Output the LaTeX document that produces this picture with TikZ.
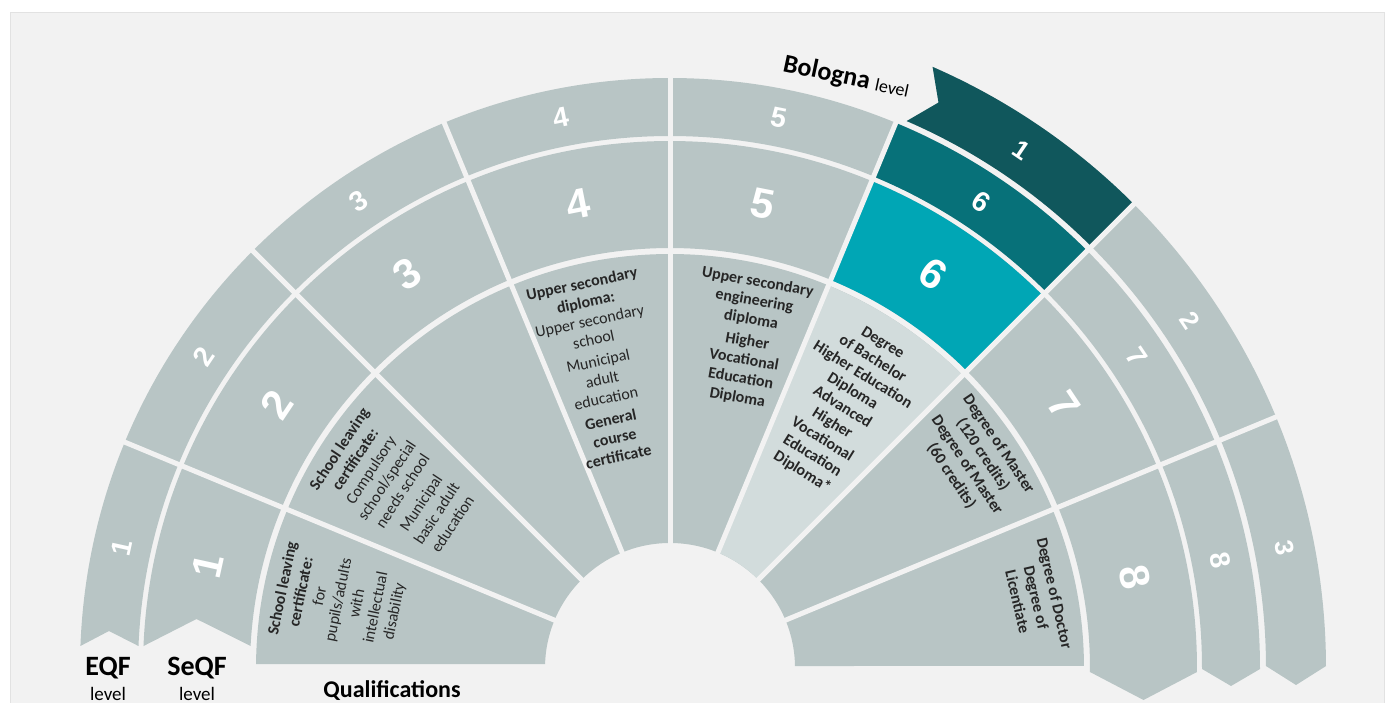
\documentclass[tikz,border=0pt]{standalone}
\usepackage{fontspec}
\setmainfont{Carlito}
\newfontfamily\digitfont{Liberation Sans}
\definecolor{bgc}{HTML}{F2F2F2}
\definecolor{framec}{HTML}{E2E2E2}
\definecolor{cellgray}{HTML}{B8C5C5}
\definecolor{celllight}{HTML}{D2DCDC}
\definecolor{cyanc}{HTML}{00A6B5}
\definecolor{tealc}{HTML}{077179}
\definecolor{darkc}{HTML}{10575C}
\definecolor{txt}{HTML}{262626}
\begin{document}
\begin{tikzpicture}[x=1pt,y=1pt,
  sep/.style={draw=bgc, line width=5pt},
  dig/.style={text=white, font=\digitfont\bfseries\fontsize{#1}{#1}\selectfont, inner sep=0pt},
  qtext/.style={align=center, text=txt, inner sep=0pt, font=\fontsize{16}{19}\selectfont},
  qbold/.style={qtext, font=\bfseries\fontsize{16}{19}\selectfont},
  lbl/.style={text=black, inner sep=0pt}
]
\useasboundingbox (0,0) rectangle (1388,702);
\fill[white] (0,0) rectangle (1388,702);
\filldraw[fill=bgc, draw=framec, line width=1pt] (10,-2) rectangle (1384,689);

\begin{scope}[shift={(670,34)}]
  % qualifications ring
  \fill[cellgray] (179.45:414) arc[start angle=179.45, end angle=0.3, radius=414]
     -- (0.9:125) arc[start angle=0.9, end angle=178.17, radius=125] -- cycle;
  \fill[celllight] (67.5:414) arc[start angle=67.5, end angle=45, radius=414]
     -- (45:125) arc[start angle=45, end angle=67.5, radius=125] -- cycle;
  % SeQF ring
  \fill[cellgray] (177.61:527) arc[start angle=177.61, end angle=-0.435, radius=527]
     -- (473.5,-32) -- (-0.546:420) arc[start angle=-0.546, end angle=177.0, radius=420]
     -- (-473.5,49) -- cycle;
  \fill[cyanc] (67.5:527) arc[start angle=67.5, end angle=45, radius=527]
     -- (45:420) arc[start angle=45, end angle=67.5, radius=420] -- cycle;
  % EQF ring
  \fill[cellgray] (177.86:590) arc[start angle=177.86, end angle=-0.1, radius=590]
     -- (561,-18) -- (-0.1:532) arc[start angle=-0.1, end angle=177.63, radius=532]
     -- (-561,37) -- cycle;
  \fill[tealc] (67.5:590) arc[start angle=67.5, end angle=45, radius=590]
     -- (45:532) arc[start angle=45, end angle=67.5, radius=532] -- cycle;
  % Bologna ring
  \fill[cellgray] (66.4:656) arc[start angle=66.4, end angle=0.17, radius=656]
     -- (626,-17) -- (0.19:596) arc[start angle=0.19, end angle=66.6, radius=596]
     -- (64.6:626) -- cycle;
  \fill[darkc] (66.4:656) arc[start angle=66.4, end angle=45, radius=656]
     -- (45:596) arc[start angle=45, end angle=66.6, radius=596]
     -- (64.6:626) -- cycle;
  % separators
  \foreach \a in {157.5,135,112.5,90,67.5} \draw[sep] (\a:100) -- (\a:594);
  \foreach \a in {45,22.5} \draw[sep] (\a:100) -- (\a:662);

  % digits
  \foreach \k/\a in {1/167.6,2/146.25,3/123.75,4/101.25,5/78.75,6/56.25,7/33.75,8/11.1} {
    \node[dig=28, rotate=\a-90] (eqf\k) at (\a:561) {\k};
    \node[dig=42, rotate=\a-90] (seqf\k) at (\a:473.5) {\k};
  }
  \foreach \k/\a in {1/55.8,2/33.75,3/11.1}
    \node[dig=26, rotate=\a-90] (bol\k) at (\a:626) {\k};

  % qualification texts
  \node[qtext, rotate=78.4] (q1) at (168.4:338)
    {\textbf{School leaving}\\\textbf{certificate:}\\for\\pupils/adults\\with\\intellectual\\disability};
  \node[qtext, rotate=56.5] (q2) at (146.5:329)
    {\textbf{School leaving}\\\textbf{certificate:}\\Compulsory\\school/special\\needs school\\[3pt]Municipal\\basic adult\\education};
  \node[qtext, rotate=12] (q4) at (103.2:306)
    {\textbf{Upper secondary}\\\textbf{diploma:}\\Upper secondary\\school\\[3pt]Municipal\\adult\\education\\[3pt]\textbf{General}\\\textbf{course}\\\textbf{certificate}};
  \node[qbold, rotate=-10] (q5) at (76.7:337)
    {Upper secondary\\engineering\\diploma\\[3pt]Higher\\Vocational\\Education\\Diploma};
  \node[qbold, rotate=-32] (q6) at (56.5:312)
    {Degree\\of Bachelor\\Higher Education\\Diploma\\Advanced\\Higher\\Vocational\\Education\\Diploma*};
  \node[qbold, rotate=-56] (q7) at (34.3:369)
    {Degree of Master\\(120 credits)\\Degree of Master\\(60 credits)};
  \node[qbold, rotate=-77] (q8) at (10.9:373)
    {Degree of Doctor\\Degree of\\Licentiate};
\end{scope}

% labels
\node[lbl, anchor=base, font=\bfseries\fontsize{28}{28}\selectfont] (eqf) at (108,27) {EQF};
\node[lbl, anchor=base, font=\fontsize{19}{19}\selectfont] (eqflvl) at (108,2) {level};
\node[lbl, anchor=base, font=\bfseries\fontsize{28}{28}\selectfont] (seqf) at (197,27) {SeQF};
\node[lbl, anchor=base, font=\fontsize{19}{19}\selectfont] (seqflvl) at (197,2) {level};
\node[lbl, anchor=base, font=\bfseries\fontsize{24}{24}\selectfont] (quals) at (392,5) {Qualifications};
\node[lbl, anchor=base west, rotate=-12] (bologna) at (782,631)
  {\fontsize{26}{26}\selectfont\bfseries Bologna \fontsize{18}{18}\selectfont\mdseries level};
\end{tikzpicture}
\end{document}
